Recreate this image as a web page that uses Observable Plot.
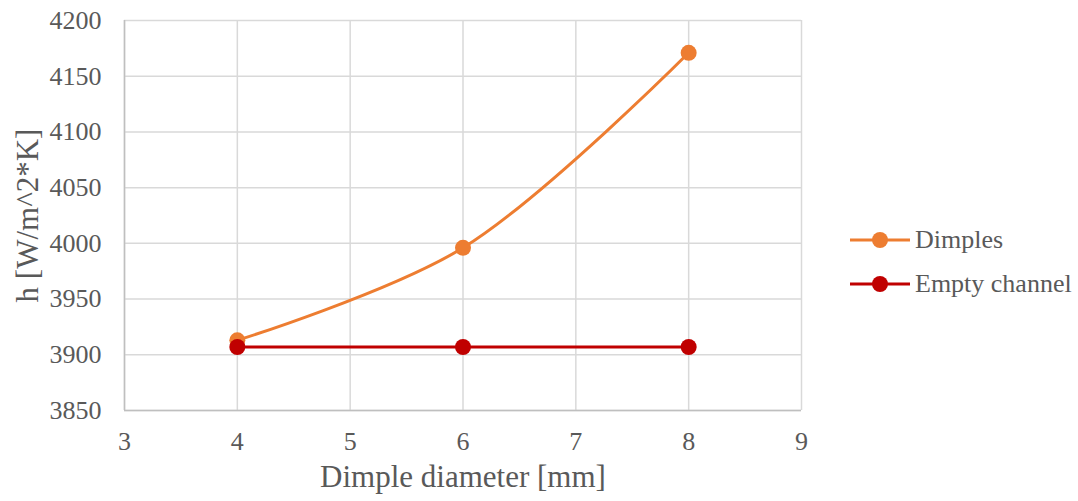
<!DOCTYPE html>
<html>
<head>
<meta charset="utf-8">
<script src="https://cdn.jsdelivr.net/npm/d3@7"></script>
<script src="https://cdn.jsdelivr.net/npm/@observablehq/plot@0.6"></script>
<style>
  html, body { margin: 0; padding: 0; background: #fff; }
  #wrap { position: relative; width: 1078px; height: 501px; font-family: 'Liberation Serif', serif; color: #595959; }
  #wrap svg text { font-family: 'Liberation Serif', serif; }
  #legend { position: absolute; left: 850px; top: 218px; font-size: 26px; font-family: 'Liberation Serif', serif; color: #595959; }
  #legend .item { display: flex; align-items: center; height: 44px; }
  #legend svg { margin-right: 5px; }
</style>
</head>
<body>
<div id="wrap"></div>
<script>
const diameters = [4, 6, 8];
const dimples = [3913, 3996, 4171];
const emptyChannel = [3907, 3907, 3907];
const seriesNames = ["Dimples", "Empty channel"];
const seriesColors = ["#ED7D31", "#C00000"];
const xTicks = [3, 4, 5, 6, 7, 8, 9];
const yTicks = [3850, 3900, 3950, 4000, 4050, 4100, 4150, 4200];
const xTitle = "Dimple diameter [mm]";
const yTitle = "h [W/m^2*K]";

const dataD = diameters.map((d, i) => ({x: d, y: dimples[i]}));
const dataE = diameters.map((d, i) => ({x: d, y: emptyChannel[i]}));

const serif = "'Liberation Serif', serif";

const chart = Plot.plot({
  width: 1078,
  height: 501,
  marginLeft: 124,
  marginRight: 277,
  marginTop: 20,
  marginBottom: 91,
  style: {fontFamily: serif, fontSize: "26px", color: "#595959", background: "#fff"},
  x: {domain: [3, 9]},
  y: {domain: [3850, 4200]},
  marks: [
    Plot.ruleX(xTicks, {stroke: "#d9d9d9", strokeWidth: 1.5}),
    Plot.ruleY(yTicks, {stroke: "#d9d9d9", strokeWidth: 1.5}),
    Plot.ruleX([3], {stroke: "#bfbfbf", strokeWidth: 1.5}),
    Plot.ruleY([3850], {stroke: "#bfbfbf", strokeWidth: 1.5}),
    Plot.axisX({ticks: xTicks, tickFormat: d3.format("d"), tickSize: 0, tickPadding: 21, label: null, fontSize: 26, fontFamily: serif, fill: "#595959"}),
    Plot.axisY({ticks: yTicks, tickFormat: d3.format("d"), tickSize: 0, tickPadding: 23, label: null, fontSize: 26, fontFamily: serif, fill: "#595959"}),
    Plot.line(dataE, {x: "x", y: "y", stroke: seriesColors[1], strokeWidth: 3}),
    Plot.line(dataD, {x: "x", y: "y", stroke: seriesColors[0], strokeWidth: 3, curve: "catmull-rom"}),
    Plot.dot(dataD, {x: "x", y: "y", r: 8, fill: seriesColors[0]}),
    Plot.dot(dataE, {x: "x", y: "y", r: 8, fill: seriesColors[1]}),
    Plot.text([xTitle], {frameAnchor: "bottom", dy: 76, fontSize: 31, fontFamily: serif, fill: "#595959"}),
    Plot.text([yTitle], {frameAnchor: "left", dx: -96, rotate: -90, textAnchor: "middle", fontSize: 31, fontFamily: serif, fill: "#595959"})
  ]
});

const wrap = document.getElementById("wrap");
wrap.appendChild(chart);

const legend = document.createElement("div");
legend.id = "legend";
seriesNames.forEach((name, i) => {
  const item = document.createElement("div");
  item.className = "item";
  item.innerHTML = `<svg width="60" height="20"><line x1="0" y1="10" x2="60" y2="10" stroke="${seriesColors[i]}" stroke-width="3"/><circle cx="30" cy="10" r="8" fill="${seriesColors[i]}"/></svg><span>${name}</span>`;
  legend.appendChild(item);
});
wrap.appendChild(legend);
</script>
</body>
</html>
